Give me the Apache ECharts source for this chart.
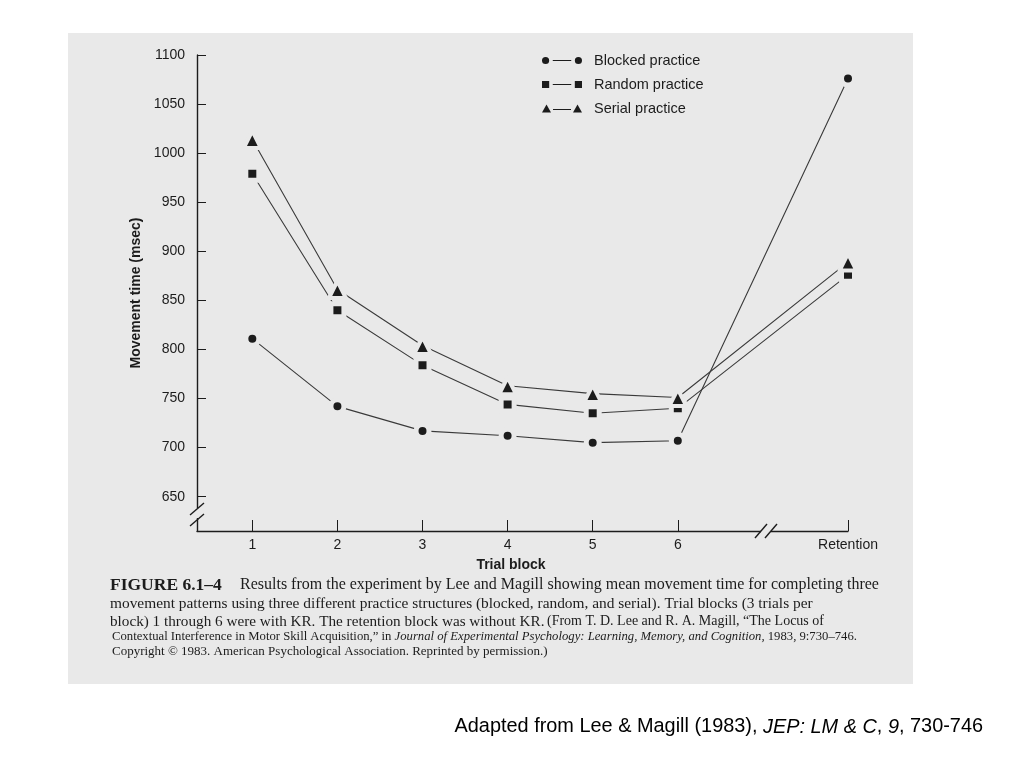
<!DOCTYPE html>
<html>
<head>
<meta charset="utf-8">
<script src="https://cdn.jsdelivr.net/npm/echarts@6/dist/echarts.min.js"></script>
<style>
html,body{margin:0;padding:0;background:#fff;}
#c{width:1024px;height:768px;}
</style>
</head>
<body>
<div id="c"></div>
<script>
// ---- data ----
var trialBlocks = [1, 2, 3, 4, 5, 6, 8];           // x positions (8 = Retention)
var trialLabels = ['1', '2', '3', '4', '5', '6', 'Retention'];
var blockedPractice = [811, 742, 717, 712, 705, 707, 1076];
var randomPractice  = [979, 840, 784, 744, 735, 740, 876];
var serialPractice  = [1014, 861, 804, 763, 755, 751, 889];
var yTicks = [650, 700, 750, 800, 850, 900, 950, 1000, 1050, 1100];
var seriesNames = ['Blocked practice', 'Random practice', 'Serial practice'];

var PAPER = '#e9e9e9';
var INK = '#1c1c1c';
var LINE = '#3a3a3a';

function pairs(vals) {
  return vals.map(function (v, i) { return [trialBlocks[i], v]; });
}
var labelMap = {};
trialBlocks.forEach(function (x, i) { labelMap[x] = trialLabels[i]; });

function mkSeries(name, vals, symbol, size, border) {
  return {
    name: name,
    type: 'line',
    data: pairs(vals),
    symbol: symbol,
    symbolSize: size,
    showAllSymbol: true,
    lineStyle: { color: LINE, width: 1.1 },
    itemStyle: { color: INK, borderColor: PAPER, borderWidth: border, borderJoin: 'round' },
    emphasis: { disabled: true },
    animation: false
  };
}

var legendIcons = {
  circle: 'path://M0.5,4a3.5,3.5 0 1,0 7,0a3.5,3.5 0 1,0 -7,0M11,3.4h18v1.2h-18zM32.5,4a3.5,3.5 0 1,0 7,0a3.5,3.5 0 1,0 -7,0',
  square: 'path://M0.5,0.5h7v7h-7zM11,3.4h18v1.2h-18zM32.5,0.5h7v7h-7z',
  triangle: 'path://M0,8L4.5,0L9,8zM11,4.4h18v1.2h-18zM31,8L35.5,0L40,8z'
};

var chart = echarts.init(document.getElementById('c'), null, { renderer: 'canvas' });

var serif = '"Liberation Serif", "DejaVu Serif", serif';
var sans = '"Liberation Sans", Arial, sans-serif';

function capText(x, y, text, size, extra) {
  var el = { type: 'text', z: 50, silent: true, x: x, y: y,
    style: { text: text, font: (extra || '') + size + 'px ' + serif, fill: INK, verticalAlign: 'middle' } };
  return el;
}

var option = {
  backgroundColor: '#ffffff',
  animation: false,
  grid: { left: 197, top: 55, width: 651, height: 476, containLabel: false },
  legend: {
    orient: 'vertical',
    left: 537,
    top: 48,
    itemWidth: 40,
    itemHeight: 8,
    itemGap: 9,
    selectedMode: false,
    textStyle: { fontSize: 14.5, color: INK, fontFamily: sans, padding: [0, 0, 0, 7] },
    itemStyle: { color: INK, borderWidth: 0 },
    data: [
      { name: seriesNames[0], icon: legendIcons.circle },
      { name: seriesNames[1], icon: legendIcons.square },
      { name: seriesNames[2], icon: legendIcons.triangle }
    ]
  },
  xAxis: {
    type: 'value',
    min: 0.35,
    max: 8,
    name: 'Trial block',
    nameLocation: 'middle',
    nameGap: 27,
    nameTextStyle: { fontSize: 14, fontWeight: 'bold', color: INK, fontFamily: sans, padding: [0, 23, 0, 0] },
    axisLine: { lineStyle: { color: INK, width: 1.4 } },
    axisTick: { show: true, inside: true, length: 11, customValues: trialBlocks, lineStyle: { color: INK, width: 1 } },
    axisLabel: {
      customValues: trialBlocks,
      fontSize: 14, color: INK, fontFamily: sans, margin: 7,
      formatter: function (v) { return labelMap[v] || ''; }
    },
    splitLine: { show: false }
  },
  yAxis: {
    type: 'value',
    min: 615,
    max: 1100,
    name: 'Movement time (msec)',
    nameLocation: 'middle',
    nameGap: 42,
    nameTextStyle: { fontSize: 14, fontWeight: 'bold', color: INK, fontFamily: sans },
    axisLine: { lineStyle: { color: INK, width: 1.4 } },
    axisTick: { show: true, inside: true, length: 9, customValues: yTicks, lineStyle: { color: INK, width: 1 } },
    axisLabel: { customValues: yTicks, fontSize: 14, color: INK, fontFamily: sans, margin: 12,
      formatter: function (v) { return String(v); } },
    splitLine: { show: false }
  },
  series: [
    mkSeries(seriesNames[0], blockedPractice, 'circle', 13, 5),
    mkSeries(seriesNames[1], randomPractice, 'rect', 13, 5),
    mkSeries(seriesNames[2], serialPractice, 'triangle', 17, 4)
  ],
  graphic: {
    elements: [
      // scanned page background
      { type: 'rect', z: -100, silent: true, shape: { x: 68, y: 33, width: 845, height: 651 }, style: { fill: PAPER } },
      // y-axis break
      { type: 'rect', z: 100, silent: true, shape: { x: 192, y: 508, width: 10, height: 10 }, style: { fill: PAPER } },
      { type: 'line', z: 101, silent: true, shape: { x1: 190, y1: 515, x2: 204, y2: 503 }, style: { stroke: INK, lineWidth: 1.4 } },
      { type: 'line', z: 101, silent: true, shape: { x1: 190, y1: 526, x2: 204, y2: 514 }, style: { stroke: INK, lineWidth: 1.4 } },
      // x-axis break
      { type: 'rect', z: 100, silent: true, shape: { x: 761, y: 526, width: 10, height: 10 }, style: { fill: PAPER } },
      { type: 'line', z: 101, silent: true, shape: { x1: 755, y1: 538, x2: 767, y2: 524 }, style: { stroke: INK, lineWidth: 1.4 } },
      { type: 'line', z: 101, silent: true, shape: { x1: 765, y1: 538, x2: 777, y2: 524 }, style: { stroke: INK, lineWidth: 1.4 } },
      // caption
      capText(110, 585, 'FIGURE 6.1–4', 17.5, 'bold '),
      capText(240, 585, 'Results from the experiment by Lee and Magill showing mean movement time for completing three', 16),
      capText(110, 604, 'movement patterns using three different practice structures (blocked, random, and serial). Trial blocks (3 trials per', 15.4),
      capText(110, 622, 'block) 1 through 6 were with KR. The retention block was without KR.', 15.2),
      capText(547, 621, '(From T. D. Lee and R. A. Magill, “The Locus of', 14),
      { type: 'text', z: 50, silent: true, x: 112, y: 637, style: {
          text: '{n|Contextual Interference in Motor Skill Acquisition,” in }{i|Journal of Experimental Psychology: Learning, Memory, and Cognition,}{n| 1983, 9:730–746.}',
          rich: {
            n: { fontSize: 12.7, fontFamily: serif, fill: INK, color: INK },
            i: { fontSize: 12.7, fontFamily: serif, fontStyle: 'italic', fill: INK, color: INK }
          },
          verticalAlign: 'middle' } },
      capText(112, 652, 'Copyright © 1983. American Psychological Association. Reprinted by permission.)', 13),
      // source note
      { type: 'text', z: 50, silent: true, x: 983, y: 727, style: {
          text: '{n|Adapted from Lee & Magill (1983), }{i|JEP: LM & C}{n|, }{i|9}{n|, 730-746}',
          rich: {
            n: { fontSize: 19.9, fontFamily: sans, fill: '#000', color: '#000' },
            i: { fontSize: 19.9, fontFamily: sans, fontStyle: 'italic', fill: '#000', color: '#000' }
          },
          align: 'right', verticalAlign: 'middle' } }
    ]
  }
};
chart.setOption(option);
</script>
</body>
</html>
